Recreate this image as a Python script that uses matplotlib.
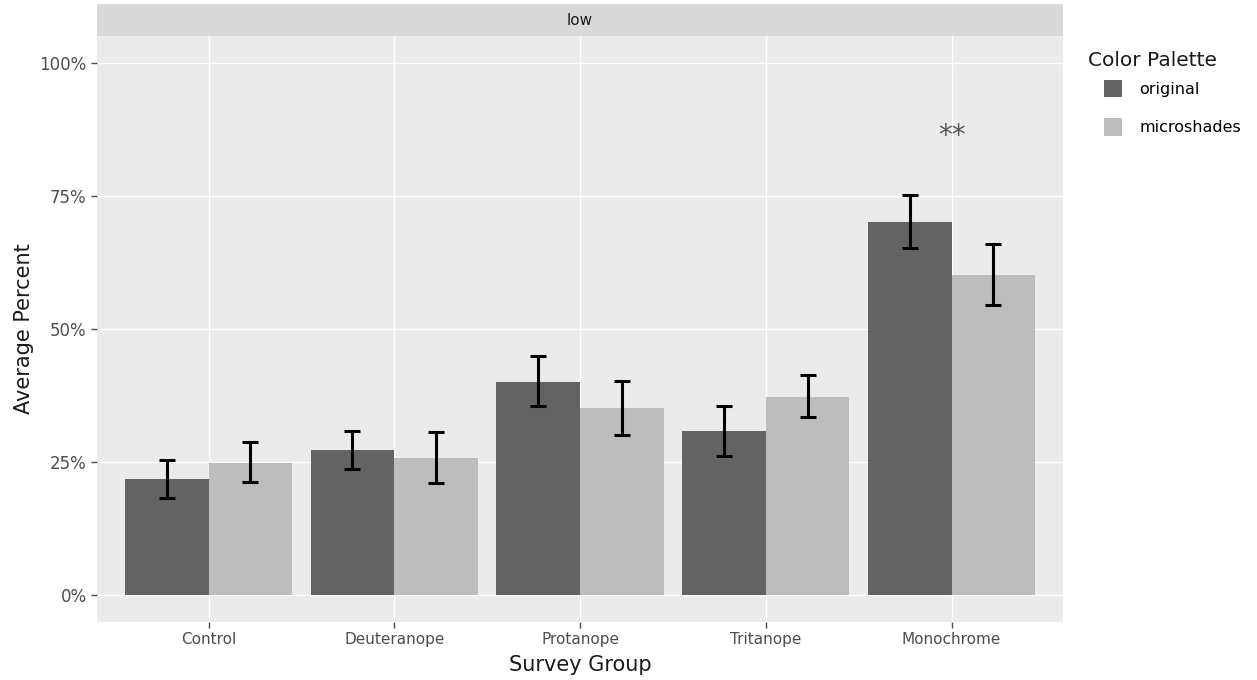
import matplotlib.pyplot as plt
import numpy as np
from matplotlib.patches import Rectangle
from matplotlib.ticker import FuncFormatter

groups = ['Control', 'Deuteranope', 'Protanope', 'Tritanope', 'Monochrome']
palettes = ['original', 'microshades']

# mean percent correct, with lower / upper error bar ends
orig_mean = [0.218, 0.272, 0.401, 0.308, 0.701]
orig_lo = [0.183, 0.237, 0.355, 0.262, 0.652]
orig_hi = [0.254, 0.308, 0.449, 0.355, 0.752]

micro_mean = [0.249, 0.258, 0.351, 0.372, 0.602]
micro_lo = [0.212, 0.211, 0.301, 0.335, 0.545]
micro_hi = [0.288, 0.307, 0.403, 0.413, 0.660]

signif_group = 'Monochrome'
signif_label = '**'
signif_y = 0.862

colors = {'original': '#636363', 'microshades': '#bdbdbd'}

fig = plt.figure(figsize=(12.57, 6.8), dpi=100)
ax = fig.add_axes([0.0772, 0.0859, 0.7685, 0.8606])
ax.set_facecolor('#ebebeb')

x = np.arange(len(groups))
w = 0.45
means = {'original': orig_mean, 'microshades': micro_mean}
los = {'original': orig_lo, 'microshades': micro_lo}
his = {'original': orig_hi, 'microshades': micro_hi}

for i, p in enumerate(palettes):
    xs = x + (i - 0.5) * w
    m = np.array(means[p])
    ax.bar(xs, m, width=w, color=colors[p], label=p, zorder=2)
    yerr = [m - np.array(los[p]), np.array(his[p]) - m]
    ax.errorbar(xs, m, yerr=yerr, fmt='none', ecolor='black',
                elinewidth=2.2, capsize=6, capthick=2.2, zorder=3)

ax.text(groups.index(signif_group), signif_y, signif_label, ha='center',
        va='center', fontsize=20, color='#595959')

ax.set_xlim(-0.6, len(groups) - 0.4)
ax.set_ylim(-0.05, 1.05)
ax.set_yticks([0, 0.25, 0.5, 0.75, 1.0])
ax.yaxis.set_major_formatter(FuncFormatter(lambda v, _: f'{v * 100:.0f}%'))
ax.set_xticks(x)
ax.set_xticklabels(groups)
ax.grid(True, color='white', linewidth=1.0, zorder=0)
ax.set_axisbelow(True)
for s in ax.spines.values():
    s.set_visible(False)
ax.tick_params(axis='both', colors='#4d4d4d', length=4, width=1)
ax.tick_params(axis='x', labelsize=11)
ax.tick_params(axis='y', labelsize=12)

ax.set_xlabel('Survey Group', fontsize=15, color='#1a1a1a', labelpad=6)
ax.set_ylabel('Average Percent', fontsize=15, color='#1a1a1a', labelpad=4)

# facet strip
strip = Rectangle((0.0772, 0.9465), 0.7685, 0.047, transform=fig.transFigure,
                  facecolor='#d9d9d9', edgecolor='none')
fig.patches.append(strip)
fig.text(0.0772 + 0.7685 / 2, 0.970, 'low', ha='center', va='center',
         fontsize=11, color='#1a1a1a')

# legend
fig.text(1088 / 1257, 1 - 61 / 680, 'Color Palette', ha='left', va='center',
         fontsize=14.5, color='#1a1a1a')
ax.legend(loc='upper left', bbox_to_anchor=(1104 / 1257, 1 - 80 / 680),
          bbox_transform=fig.transFigure, frameon=False, fontsize=11.5,
          handlelength=1.1, handleheight=1.3, labelspacing=1.3,
          handletextpad=1.1, borderpad=0, borderaxespad=0)

plt.savefig('out.png', dpi=100)
